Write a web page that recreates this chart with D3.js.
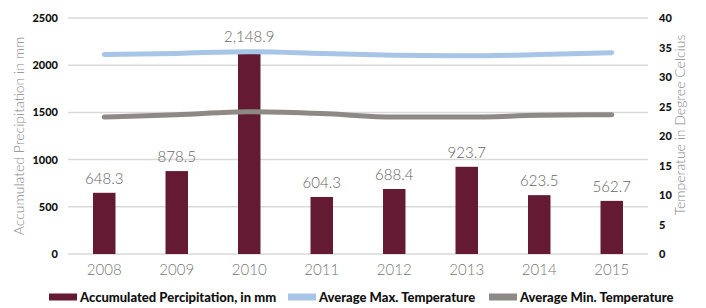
<!DOCTYPE html>
<html>
<head>
<meta charset="utf-8">
<script src="https://cdn.jsdelivr.net/npm/d3@7"></script>
<style>
  body { margin: 0; background: #fff; }
  svg { display: block; }
</style>
</head>
<body>
<div class="chart"></div>
<script>
const years = ['2008', '2009', '2010', '2011', '2012', '2013', '2014', '2015']
const precipitation = [648.3, 878.5, 2148.9, 604.3, 688.4, 923.7, 623.5, 562.7]
const maxTemp = [33.8, 34.0, 34.3, 34.0, 33.7, 33.6, 33.8, 34.1]
const minTemp = [23.2, 23.6, 24.1, 23.8, 23.2, 23.2, 23.5, 23.6]
const precipTicks = [0, 500, 1000, 1500, 2000, 2500]
const tempTicks = [0, 5, 10, 15, 20, 25, 30, 35, 40]
const legendItems = [
  { label: 'Accumulated Percipitation, in mm', color: '#651a33' },
  { label: 'Average Max. Temperature', color: '#a7c5e6' },
  { label: 'Average Min. Temperature', color: '#8d8a86' }
]

;(function init() {
  const width = 706
  const height = 308
  const left = 68
  const right = 648
  const top = 18
  const bottom = 254

  const svg = d3
    .select('.chart')
    .append('svg')
    .attr('width', width)
    .attr('height', height)

  const xScale = d3
    .scaleBand()
    .domain(years)
    .range([left, right])
    .paddingInner(0.69)
    .paddingOuter(0.345)

  const yScale = d3.scaleLinear().domain([0, 2500]).range([bottom, top])
  const tScale = d3.scaleLinear().domain([0, 40]).range([bottom, top])

  // gridlines
  svg
    .append('g')
    .selectAll('line')
    .data(precipTicks)
    .join('line')
    .attr('x1', left)
    .attr('x2', right)
    .attr('y1', (d) => yScale(d))
    .attr('y2', (d) => yScale(d))
    .attr('stroke', '#d9d9d9')
    .attr('stroke-width', 1.5)

  // left axis
  const yAxis = svg
    .append('g')
    .attr('transform', 'translate(' + (left - 10) + ',0)')
    .call(
      d3
        .axisLeft(yScale)
        .tickValues(precipTicks)
        .tickFormat(d3.format('d'))
        .tickSize(0)
        .tickPadding(0)
    )
  yAxis.select('.domain').remove()
  yAxis
    .selectAll('text')
    .attr('font-family', 'Lato')
    .attr('font-weight', 900)
    .attr('font-size', 11)
    .attr('fill', '#111')

  // right axis
  const tAxis = svg
    .append('g')
    .attr('transform', 'translate(' + (right + 11) + ',0)')
    .call(d3.axisRight(tScale).tickValues(tempTicks).tickSize(0).tickPadding(0))
  tAxis.select('.domain').remove()
  tAxis
    .selectAll('text')
    .attr('font-family', 'Lato')
    .attr('font-weight', 900)
    .attr('font-size', 11)
    .attr('fill', '#111')

  // x axis labels
  svg
    .append('g')
    .selectAll('text')
    .data(years)
    .join('text')
    .attr('x', (d) => xScale(d) + xScale.bandwidth() / 2)
    .attr('y', bottom + 21)
    .attr('text-anchor', 'middle')
    .attr('font-family', 'Lato')
    .attr('font-weight', 300)
    .attr('font-size', 15)
    .attr('fill', '#777')
    .text((d) => d)

  // axis titles
  svg
    .append('text')
    .attr('transform', 'translate(24,' + (top + bottom) / 2 + ') rotate(-90)')
    .attr('text-anchor', 'middle')
    .attr('font-family', 'Lato')
    .attr('font-weight', 300)
    .attr('font-size', 14)
    .attr('fill', '#888')
    .text('Accumulated Precipitation in mm')

  svg
    .append('text')
    .attr('transform', 'translate(685,125) rotate(-90)')
    .attr('text-anchor', 'middle')
    .attr('font-family', 'Lato')
    .attr('font-weight', 300)
    .attr('font-size', 14)
    .attr('fill', '#888')
    .text('Temperatue in Degree Celcius')

  // bars
  svg
    .append('g')
    .selectAll('rect')
    .data(precipitation)
    .join('rect')
    .attr('x', (d, i) => xScale(years[i]))
    .attr('y', (d) => yScale(d))
    .attr('width', xScale.bandwidth())
    .attr('height', (d) => bottom - yScale(d))
    .attr('fill', '#651a33')

  // bar labels
  const fmt = d3.format(',.1f')
  svg
    .append('g')
    .selectAll('text')
    .data(precipitation)
    .join('text')
    .attr('x', (d, i) => xScale(years[i]) + xScale.bandwidth() / 2)
    .attr('y', (d) => yScale(d) - 9)
    .attr('text-anchor', 'middle')
    .attr('font-family', 'Lato')
    .attr('font-weight', 300)
    .attr('font-size', 15)
    .attr('fill', '#666')
    .text((d) => fmt(d))

  // temperature lines
  const line = d3
    .line()
    .x((d, i) => xScale(years[i]) + xScale.bandwidth() / 2)
    .y((d) => tScale(d))
    .curve(d3.curveMonotoneX)

  for (const series of [
    { values: maxTemp, color: legendItems[1].color },
    { values: minTemp, color: legendItems[2].color }
  ]) {
    svg
      .append('path')
      .datum(series.values)
      .attr('d', line)
      .attr('fill', 'none')
      .attr('stroke', series.color)
      .attr('stroke-width', 5)
      .attr('stroke-linecap', 'round')
  }

  // legend
  const legendX = [49, 288, 489]
  const legend = svg
    .append('g')
    .selectAll('g')
    .data(legendItems)
    .join('g')
    .attr('transform', (d, i) => 'translate(' + legendX[i] + ',297)')

  legend
    .append('rect')
    .attr('x', 0)
    .attr('y', -3.5)
    .attr('width', 28)
    .attr('height', 7)
    .attr('fill', (d) => d.color)

  legend
    .append('text')
    .attr('x', 31)
    .attr('y', 4.5)
    .attr('font-family', 'Lato')
    .attr('font-weight', 900)
    .attr('font-size', 13)
    .attr('fill', '#111')
    .text((d) => d.label)
})()
</script>
</body>
</html>
